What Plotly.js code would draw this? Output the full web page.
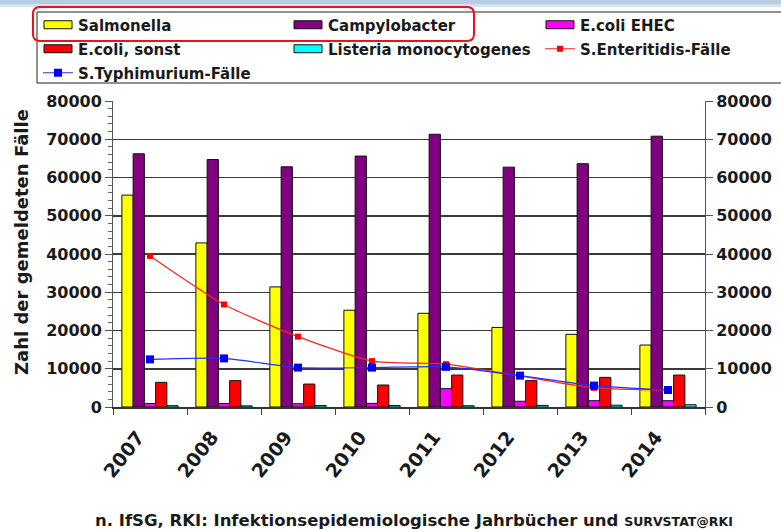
<!DOCTYPE html>
<html>
<head>
<meta charset="utf-8">
<script src="https://cdn.plot.ly/plotly-3.0.1.min.js"></script>
<style>html,body{margin:0;padding:0;background:#fff;}#chart{width:781px;height:532px;}</style>
</head>
<body>
<div id="chart"></div>
<script>
// ---- data ----
const years = ['2007','2008','2009','2010','2011','2012','2013','2014'];
const salmonella = [55400, 42900, 31400, 25300, 24500, 20800, 19000, 16200];
const campylobacter = [66200, 64700, 62800, 65600, 71300, 62700, 63600, 70800];
const ecoliEHEC = [900, 900, 850, 950, 4800, 1500, 1650, 1650];
const ecoliSonst = [6450, 6900, 6000, 5750, 8350, 6900, 7750, 8350];
const listeria = [350, 300, 400, 380, 330, 430, 470, 600];
const enteritidis = [39500, 26800, 18400, 12000, 11200, 8100, 5000, 4400];
const typhimurium = [12450, 12700, 10300, 10300, 10500, 8200, 5600, 4450];
const yTicks = [0, 10000, 20000, 30000, 40000, 50000, 60000, 70000, 80000];
const yTitle = 'Zahl der gemeldeten Fälle';
const sourceText = 'n. IfSG, RKI: Infektionsepidemiologische Jahrbücher und <span style="font-size:12.5px">SURVSTAT@RKI</span>';

// ---- geometry helpers ----
const W = 781, H = 532, ML = 113, MR = 76, MT = 101, MB = 125;
const PW = W - ML - MR, PH = H - MT - MB;
const px2x = p => (p - ML) / PW;
const px2y = p => (H - MB - p) / PH;
function rrect(x0, y0, x1, y1, r) {
  const P = (x, y) => px2x(x).toFixed(5) + ',' + px2y(y).toFixed(5);
  return 'M' + P(x0 + r, y0) + ' L' + P(x1 - r, y0) + ' Q' + P(x1, y0) + ' ' + P(x1, y0 + r) +
    ' L' + P(x1, y1 - r) + ' Q' + P(x1, y1) + ' ' + P(x1 - r, y1) +
    ' L' + P(x0 + r, y1) + ' Q' + P(x0, y1) + ' ' + P(x0, y1 - r) +
    ' L' + P(x0, y0 + r) + ' Q' + P(x0, y0) + ' ' + P(x0 + r, y0) + ' Z';
}

const outline = {color: '#111', width: 1};
function bar(name, vals, color, leg) {
  return {type: 'bar', name: name, x: years, y: vals, legend: leg,
    marker: {color: color, line: outline}, hoverinfo: 'x+y+name'};
}
const traces = [
  bar('Salmonella', salmonella, '#ffff00', 'legend'),
  bar('Campylobacter', campylobacter, '#800080', 'legend2'),
  bar('E.coli EHEC', ecoliEHEC, '#ff00ff', 'legend3'),
  bar('E.coli, sonst', ecoliSonst, '#ff0000', 'legend4'),
  bar('Listeria monocytogenes', listeria, '#00ffff', 'legend5'),
  {type: 'scatter', mode: 'lines+markers', name: 'S.Enteritidis-Fälle', x: years, y: enteritidis,
    yaxis: 'y2', legend: 'legend6',
    line: {color: '#ff2020', width: 1.2, shape: 'spline', smoothing: 0.6},
    marker: {symbol: 'square', size: 6, color: '#ff0000'}},
  {type: 'scatter', mode: 'lines+markers', name: 'S.Typhimurium-Fälle', x: years, y: typhimurium,
    yaxis: 'y2', legend: 'legend7',
    line: {color: '#2030ff', width: 1.2, shape: 'spline', smoothing: 0.6},
    marker: {symbol: 'square', size: 8, color: '#0000ff'}}
];

const legFont = {family: 'DejaVu Sans', size: 15, weight: 'bold', color: '#1a1a1a'};
const colX = [38, 288, 540], rowY = [25, 49, 73];
const legPos = [[0,0],[1,0],[2,0],[0,1],[1,1],[2,1],[0,2]];
const tickFont = {family: 'DejaVu Sans', size: 16, weight: 'bold', color: '#1a1a1a'};

const layout = {
  width: W, height: H,
  margin: {l: ML, r: MR, t: MT, b: MB, autoexpand: false},
  paper_bgcolor: '#ffffff', plot_bgcolor: '#ffffff',
  font: {family: 'DejaVu Sans', color: '#1a1a1a'},
  barmode: 'group', bargap: 0.24, bargroupgap: 0,
  showlegend: true,
  xaxis: {type: 'category', categoryorder: 'array', categoryarray: years,
    tickson: 'boundaries', ticks: 'outside', ticklen: 6, tickcolor: '#444', tickwidth: 1,
    showline: true, linecolor: '#333', linewidth: 1.5,
    tickangle: -52, ticklabelshift: -12, ticklabelstandoff: 10,
    tickfont: {family: 'DejaVu Sans', size: 19, weight: 'bold', color: '#1a1a1a'},
    showgrid: false, zeroline: false, fixedrange: true},
  yaxis: {range: [0, 80000], tickvals: yTicks, ticktext: yTicks.map(String),
    showgrid: true, gridcolor: '#3a3a3a', gridwidth: 1.5,
    showline: true, linecolor: '#555', linewidth: 1,
    ticks: 'outside', ticklen: 7, tickcolor: '#555',
    minor: {dtick: 2000, ticks: 'outside', ticklen: 4, tickcolor: '#666', showgrid: false},
    tickfont: tickFont, zeroline: false},
  yaxis2: {range: [0, 80000], tickvals: yTicks, ticktext: yTicks.map(String),
    overlaying: 'y', side: 'right', anchor: 'x', showgrid: false,
    showline: true, linecolor: '#555', linewidth: 1,
    ticks: 'outside', ticklen: 7, tickcolor: '#555',
    tickfont: tickFont, zeroline: false},
  shapes: [
    {type: 'rect', xref: 'paper', yref: 'paper', x0: px2x(-5), x1: px2x(W + 5), y0: px2y(0), y1: px2y(4),
      fillcolor: '#b6cde3', line: {width: 0}, layer: 'below'},
    {type: 'rect', xref: 'paper', yref: 'paper', x0: px2x(-5), x1: px2x(W + 5), y0: px2y(4), y1: px2y(7),
      fillcolor: '#d3e2f0', line: {width: 0}, layer: 'below'},
    {type: 'rect', xref: 'paper', yref: 'paper', x0: px2x(37), x1: px2x(W + 20), y0: px2y(12), y1: px2y(83),
      fillcolor: 'rgba(0,0,0,0)', line: {color: '#222', width: 1}},
    {type: 'path', xref: 'paper', yref: 'paper', path: rrect(33, 7, 474, 41, 7),
      fillcolor: 'rgba(0,0,0,0)', line: {color: '#e8141c', width: 2}}
  ],
  annotations: [
    {xref: 'paper', yref: 'paper', x: px2x(21), y: px2y(242), xanchor: 'center', yanchor: 'middle',
      textangle: -90, showarrow: false, text: yTitle,
      font: {family: 'DejaVu Sans', size: 18, weight: 'bold', color: '#1a1a1a'}},
    {xref: 'paper', yref: 'paper', x: px2x(414), y: px2y(520), xanchor: 'center', yanchor: 'middle',
      showarrow: false, text: sourceText,
      font: {family: 'DejaVu Sans', size: 16.5, weight: 'bold', color: '#1a1a1a'}}
  ]
};
['legend','legend2','legend3','legend4','legend5','legend6','legend7'].forEach((k, i) => {
  layout[k] = {xref: 'container', yref: 'container',
    x: colX[legPos[i][0]] / W, y: 1 - rowY[legPos[i][1]] / H,
    xanchor: 'left', yanchor: 'middle', orientation: 'v',
    bgcolor: 'rgba(0,0,0,0)', borderwidth: 0, font: legFont, itemwidth: 30};
});

Plotly.newPlot('chart', traces, layout, {displayModeBar: false, staticPlot: true}).then(gd => {
  // widen the bar legend swatches into flat rectangles like the original
  gd.querySelectorAll('.legendpoints path').forEach(p => {
    const d = p.getAttribute('d') || '';
    if (d === 'M6,6H-6V-6H6Z') p.setAttribute('d', 'M14,4H-14V-4H14Z');
  });
});
</script>
</body>
</html>
